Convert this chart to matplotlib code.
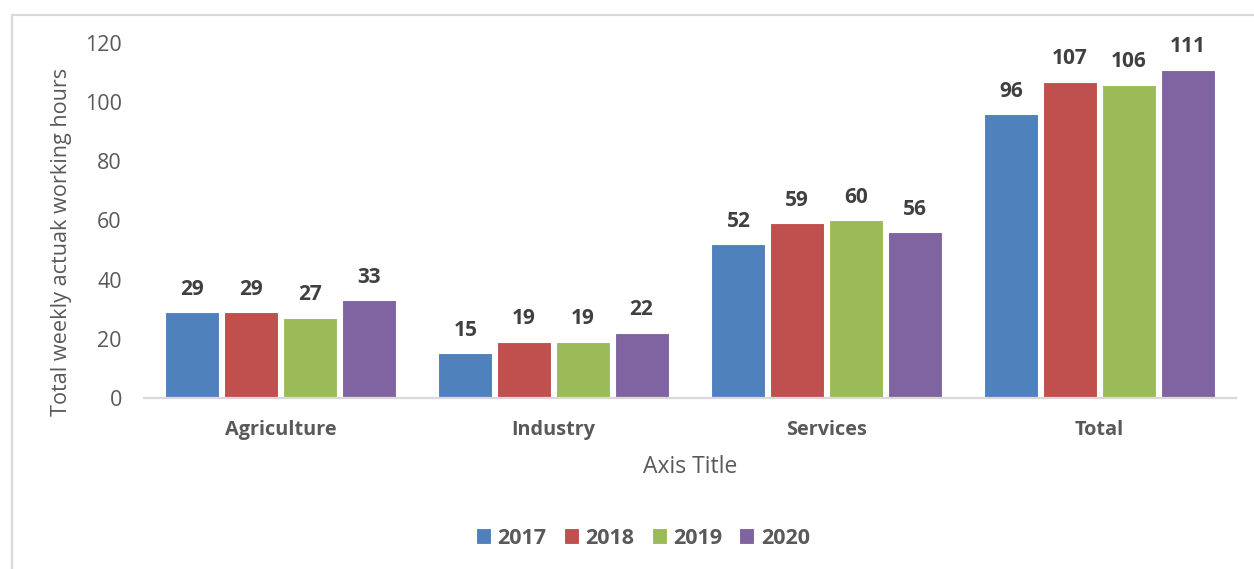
import numpy as np
import matplotlib.pyplot as plt
from matplotlib.patches import Rectangle

plt.rcParams['font.family'] = ['Open Sans', 'DejaVu Sans']

sectors = ['Agriculture', 'Industry', 'Services', 'Total']
years = ['2017', '2018', '2019', '2020']
hours_2017 = [29, 15, 52, 96]
hours_2018 = [29, 19, 59, 107]
hours_2019 = [27, 19, 60, 106]
hours_2020 = [33, 22, 56, 111]
colors = ['#4F81BD', '#C0504D', '#9BBB59', '#8064A2']

W, H = 1254, 569
fig = plt.figure(figsize=(W / 100, H / 100), dpi=100)
ax = fig.add_axes([144 / W, 1 - 397.7 / H, 1092 / W, 354.4 / H])

# chart area frame (only top and left edges fall inside the image)
fig.patches.append(Rectangle((12 / W, -0.1), 1.2, 1 - 15 / H + 0.1,
                             transform=fig.transFigure, fill=False,
                             edgecolor='#D9D9D9', linewidth=1.6))

x = np.arange(len(sectors))
step, width = 0.215, 0.198
series = [hours_2017, hours_2018, hours_2019, hours_2020]
for i, (vals, yr, c) in enumerate(zip(series, years, colors)):
    bars = ax.bar(x + (i - 1.5) * step, vals, width, color=c, label=yr,
                  edgecolor='white', linewidth=0.8)
    ax.bar_label(bars, labels=[f'{v:.0f}' for v in vals], padding=9,
                 fontsize=15, fontweight='bold', color='#404040')

ax.set_xlim(-0.5, len(sectors) - 0.5)
ax.set_ylim(0, 120)
ax.set_yticks(range(0, 121, 20))
ax.set_xticks(x, sectors)
ax.tick_params(axis='y', length=0, pad=16, labelsize=15.5, labelcolor='#595959')
ax.tick_params(axis='x', length=0, pad=16, labelsize=14.3)
for lbl in ax.get_xticklabels():
    lbl.set_fontweight('bold')
    lbl.set_color('#595959')

for side in ['top', 'right', 'left']:
    ax.spines[side].set_visible(False)
ax.spines['bottom'].set_color('#D9D9D9')
ax.spines['bottom'].set_linewidth(1.6)

fig.text(62 / W, 1 - 242 / H, 'Total weekly actuak working hours',
         rotation=90, ha='center', va='center', fontsize=15.6, color='#595959')
fig.text(690 / W, 1 - 467 / H, 'Axis Title', ha='center', va='center',
         fontsize=16.5, color='#595959')

leg = fig.legend(loc='center', bbox_to_anchor=(643 / W, 1 - 538 / H), ncol=4,
                 frameon=False, handlelength=0.7, handleheight=0.7,
                 handletextpad=0.3, columnspacing=0.8,
                 prop={'size': 15.5, 'weight': 'bold'})
for t in leg.get_texts():
    t.set_color('#595959')

fig.savefig('out.png', dpi=100)
